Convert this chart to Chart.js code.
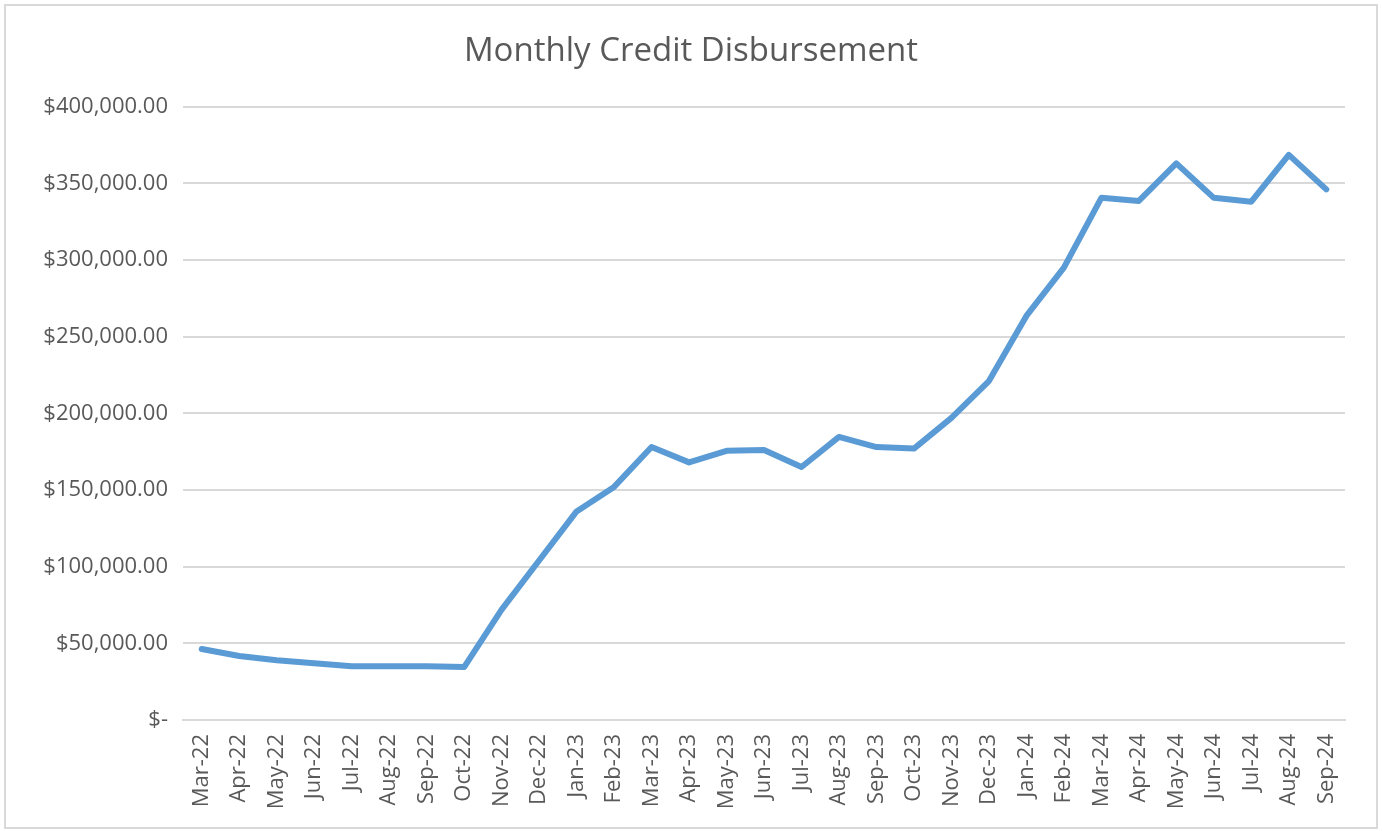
<!DOCTYPE html>
<html>
<head>
<meta charset="utf-8">
<title>Monthly Credit Disbursement</title>
<script src="https://cdn.jsdelivr.net/npm/chart.js@4.4.0/dist/chart.umd.min.js"></script>
<style>
    html, body { margin: 0; padding: 0; background: #fff; }
    #wrap { position: relative; width: 1382px; height: 831px; }
</style>
</head>
<body>
<div id="wrap">
    <canvas id="creditChart" width="1382" height="831"></canvas>
</div>
<script>
// chart data
const months = [
    'Mar-22', 'Apr-22', 'May-22', 'Jun-22', 'Jul-22', 'Aug-22', 'Sep-22', 'Oct-22',
    'Nov-22', 'Dec-22', 'Jan-23', 'Feb-23', 'Mar-23', 'Apr-23', 'May-23', 'Jun-23',
    'Jul-23', 'Aug-23', 'Sep-23', 'Oct-23', 'Nov-23', 'Dec-23', 'Jan-24', 'Feb-24',
    'Mar-24', 'Apr-24', 'May-24', 'Jun-24', 'Jul-24', 'Aug-24', 'Sep-24'
];
const disbursed = [
    46300, 41700, 39000, 37000, 35000, 35000, 35000, 34500,
    72000, 104000, 136000, 152000, 178000, 168000, 175500, 176000,
    165000, 184600, 178000, 177000, 197000, 221000, 263500, 295000,
    340500, 338500, 363000, 340500, 338000, 368500, 346000
];
const yTicks = [0, 50000, 100000, 150000, 200000, 250000, 300000, 350000, 400000];

const labelFont = "'Open Sans', 'Liberation Sans', sans-serif";
const textGrey = '#595959';

function formatDollars(value) {
    if (value === 0) return '$-';
    return '$' + value.toLocaleString('en-US', { minimumFractionDigits: 2, maximumFractionDigits: 2 });
}

// light grey frame around the whole chart, like the spreadsheet chart box
const framePlugin = {
    id: 'frame',
    beforeDraw(chart) {
        const ctx = chart.ctx;
        ctx.save();
        ctx.fillStyle = '#ffffff';
        ctx.fillRect(0, 0, chart.width, chart.height);
        ctx.strokeStyle = '#d9d9d9';
        ctx.lineWidth = 2;
        ctx.strokeRect(5, 5, chart.width - 10, chart.height - 8);
        ctx.restore();
    }
};

const ctx = document.getElementById('creditChart').getContext('2d');
new Chart(ctx, {
    type: 'line',
    data: {
        labels: months,
        datasets: [{
            label: 'Disbursement',
            data: disbursed,
            borderColor: '#5b9bd5',
            borderWidth: 6,
            pointRadius: 0,
            tension: 0,
            fill: false,
            borderJoinStyle: 'round',
            borderCapStyle: 'round'
        }]
    },
    options: {
        responsive: false,
        animation: false,
        layout: { padding: { top: 18, left: 37, right: 37, bottom: 0 } },
        plugins: {
            legend: { display: false },
            tooltip: { enabled: false },
            title: {
                display: true,
                text: 'Monthly Credit Disbursement',
                color: textGrey,
                font: { family: labelFont, size: 33, weight: 'normal' },
                padding: { top: 14, bottom: 35 }
            }
        },
        scales: {
            x: {
                offset: true,
                grid: { display: false, drawTicks: false },
                border: { display: true, color: '#d9d9d9', width: 2 },
                ticks: {
                    color: textGrey,
                    font: { family: labelFont, size: 22 },
                    maxRotation: 90,
                    minRotation: 90,
                    autoSkip: false,
                    padding: 14
                },
                afterFit(scale) { scale.height = 111; }
            },
            y: {
                min: 0,
                max: 400000,
                afterBuildTicks(scale) { scale.ticks = yTicks.map(v => ({ value: v })); },
                grid: { color: '#d9d9d9', lineWidth: 2, drawTicks: false },
                border: { display: false },
                ticks: {
                    color: textGrey,
                    font: { family: labelFont, size: 22 },
                    padding: 15,
                    callback: (value) => formatDollars(value)
                },
                afterFit(scale) { scale.width = 146; }
            }
        }
    },
    plugins: [framePlugin]
});
</script>
</body>
</html>
